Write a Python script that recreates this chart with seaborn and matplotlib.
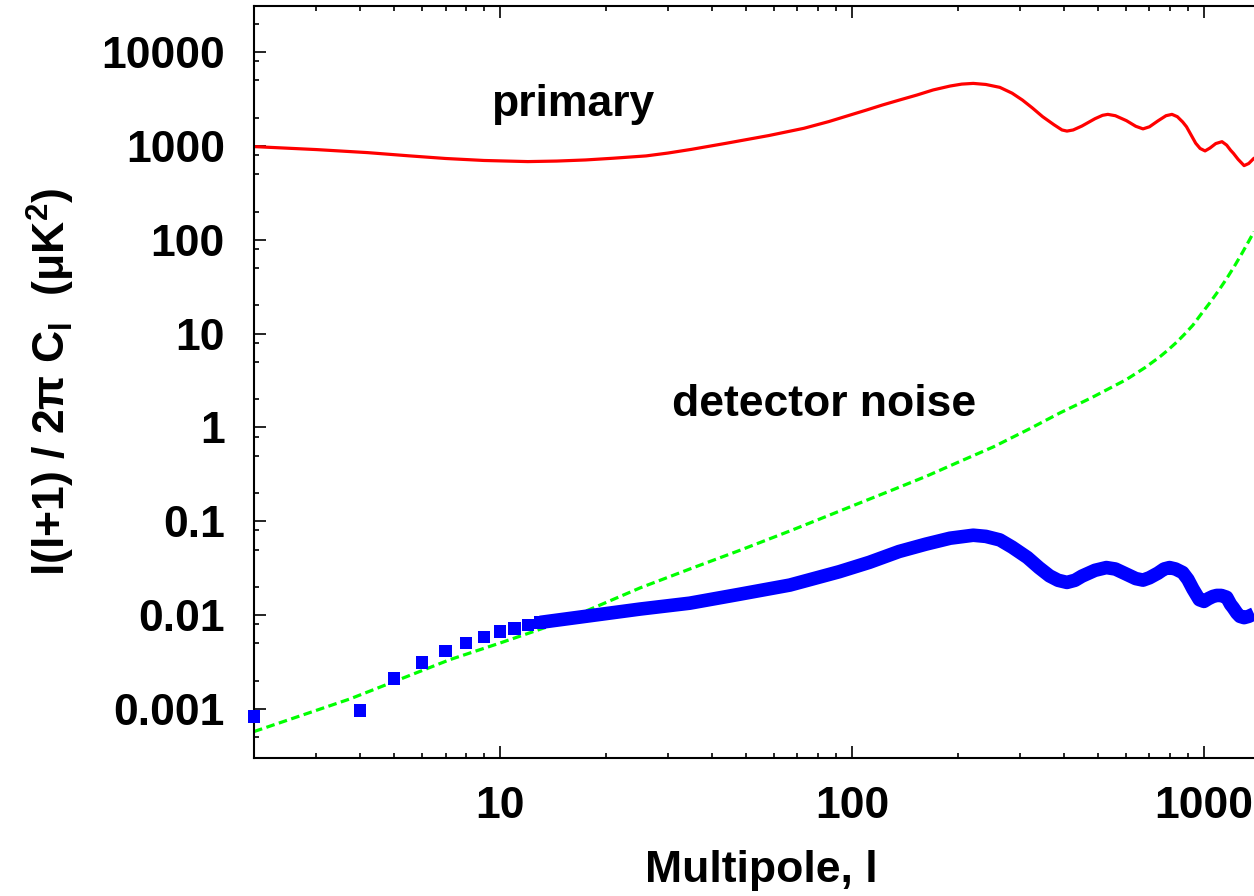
import numpy as np
import matplotlib
matplotlib.use("Agg")
import matplotlib.pyplot as plt
import seaborn as sns
from matplotlib.ticker import LogLocator, NullFormatter

# Primary CMB temperature spectrum, l(l+1)C_l/2pi in uK^2
primary_l = [2, 3, 4.2, 5.5, 7, 9, 12, 14.5, 17.5, 21, 26, 30, 35, 44, 58, 73, 86,
             99, 110, 122, 137, 153, 170, 190, 205, 221, 240, 263, 285, 305, 325,
             348, 375, 395, 408, 425, 450, 490, 515, 533, 560, 602, 640, 671, 700,
             740, 780, 811, 840, 870, 892, 920, 947, 975, 1007, 1040, 1080, 1125,
             1160, 1190, 1212, 1250, 1300, 1340, 1387]
primary_cl = [984, 915, 849, 785, 735, 700, 681, 690, 709, 740, 783, 840, 920,
              1069, 1290, 1542, 1820, 2140, 2415, 2730, 3100, 3490, 3950, 4350,
              4560, 4640, 4520, 4210, 3650, 3080, 2550, 2050, 1680, 1480, 1440,
              1480, 1630, 1950, 2120, 2170, 2100, 1860, 1620, 1520, 1600, 1850,
              2100, 2170, 2050, 1800, 1600, 1300, 1070, 940, 885, 950, 1060, 1110,
              1020, 900, 835, 720, 617, 650, 740]

# Detector noise spectrum
noise_l = [2, 3.75, 7.2, 10, 13.9, 18, 25, 34.6, 48, 66.6, 92, 104, 130, 163, 200,
           252, 320, 390, 480, 602, 680, 750, 790, 838, 880, 930, 980, 1038, 1100,
           1160, 1220, 1285, 1340, 1387]
noise_cl = [5.74e-4, 1.28e-3, 3.35e-3, 5.04e-3, 7.7e-3, 0.0115, 0.0195, 0.031,
            0.049, 0.0788, 0.128, 0.154, 0.215, 0.303, 0.425, 0.62, 0.97, 1.43,
            2.08, 3.24, 4.34, 5.68, 6.68, 8.16, 9.83, 12.3, 16.0, 21.2, 28.7,
            38.6, 52.2, 72.8, 96.4, 122]

# Secondary signal: isolated low multipoles
low_l = [2, 4, 5, 6, 7, 8, 9, 10, 11, 12, 13]
low_cl = [8.3e-4, 9.6e-4, 2.12e-3, 3.11e-3, 4.14e-3, 5.04e-3, 5.88e-3, 6.71e-3,
          7.22e-3, 7.83e-3, 8.36e-3]

# Secondary signal: densely sampled multipoles
band_l = [13, 18, 25, 34.6, 48, 66.6, 92, 112, 136, 162, 190, 221, 240, 263, 285,
          315, 340, 364, 385, 408, 430, 450, 490, 528, 560, 602, 640, 671, 700,
          740, 770, 798, 830, 870, 900, 930, 970, 1000, 1030, 1060, 1087, 1120,
          1160, 1190, 1210, 1240, 1265, 1300, 1340, 1387]
band_cl = [8.36e-3, 9.84e-3, 0.0116, 0.0134, 0.0167, 0.0209, 0.0290, 0.0365,
           0.0476, 0.057, 0.066, 0.071, 0.069, 0.0633, 0.053, 0.0411, 0.032,
           0.0262, 0.0235, 0.0223, 0.0235, 0.026, 0.030, 0.0321, 0.031, 0.0273,
           0.0245, 0.0236, 0.025, 0.028, 0.031, 0.0321, 0.031, 0.0284, 0.024,
           0.019, 0.0146, 0.0140, 0.0150, 0.0158, 0.0162, 0.0162, 0.0155, 0.013,
           0.012, 0.0105, 0.0097, 0.0094, 0.0097, 0.0103]

x_ticks = [10, 100, 1000]
x_tick_labels = ["10", "100", "1000"]
y_ticks = [0.001, 0.01, 0.1, 1, 10, 100, 1000, 10000]
y_tick_labels = ["0.001", "0.01", "0.1", "1", "10", "100", "1000", "10000"]

sns.set_style("ticks")
plt.rcParams["font.family"] = ["Liberation Sans", "DejaVu Sans"]
plt.rcParams["font.weight"] = "bold"
plt.rcParams["axes.labelweight"] = "bold"
plt.rcParams["text.color"] = "black"
plt.rcParams["axes.labelcolor"] = "black"

FS = 32

fig = plt.figure(figsize=(12.54, 8.96), dpi=100)
ax = fig.add_axes([254 / 1254, 1 - 758 / 896, 1000 / 1254, 752 / 896])

sns.lineplot(x=primary_l, y=primary_cl, ax=ax, color="#ff0000", lw=2.3,
             legend=False)
sns.lineplot(x=noise_l, y=noise_cl, ax=ax, color="#00ff00", lw=2.3,
             linestyle=(0, (2.7, 1.4)), legend=False)
sns.lineplot(x=band_l, y=band_cl, ax=ax, color="#0000ff", lw=9.8,
             solid_capstyle="butt", legend=False)
sns.scatterplot(x=low_l, y=low_cl, ax=ax, marker="s", s=80, color="#0000ff",
                edgecolor="none", linewidth=0, clip_on=False, zorder=5,
                legend=False)

ax.set_xscale("log")
ax.set_yscale("log")
ax.set_xlim(2, 1387)
ax.set_ylim(3e-4, 3.1e4)

ax.set_xticks(x_ticks, x_tick_labels)
ax.set_yticks(y_ticks, y_tick_labels)
ax.xaxis.set_minor_locator(LogLocator(base=10, subs=np.arange(2, 10)))
ax.yaxis.set_minor_locator(LogLocator(base=10, subs=(2, 5, 8)))
ax.xaxis.set_minor_formatter(NullFormatter())
ax.yaxis.set_minor_formatter(NullFormatter())

ax.tick_params(which="both", direction="in", top=True, right=False,
               bottom=True, left=True, color="black", width=1.2,
               labelsize=FS, labelcolor="black")
ax.tick_params(which="major", length=8.6)
ax.tick_params(which="minor", length=3.6)
ax.tick_params(axis="x", which="major", pad=20)
ax.tick_params(axis="y", which="major", pad=21)
for lab in ax.get_xticklabels() + ax.get_yticklabels():
    lab.set_fontweight("bold")

for side in ["left", "bottom", "top"]:
    ax.spines[side].set_linewidth(1.5)
    ax.spines[side].set_color("black")
ax.spines["right"].set_visible(False)

ax.set_xlabel("Multipole, l", fontsize=FS, fontweight="bold", color="black")
ax.set_ylabel(r"l(l+1) / 2π C$_\mathregular{l}$  (μK$^\mathregular{2}$)",
              fontsize=FS, fontweight="bold", color="black")
ax.xaxis.set_label_coords(0.507, -0.122)
ax.yaxis.set_label_coords(-0.177, 0.5)

ax.text(9.43, 2084, "primary", fontsize=FS, fontweight="bold",
        color="black", ha="left", va="baseline")
ax.text(30.8, 1.31, "detector noise", fontsize=FS, fontweight="bold",
        color="black", ha="left", va="baseline")

fig.savefig("out.png", dpi=100)
